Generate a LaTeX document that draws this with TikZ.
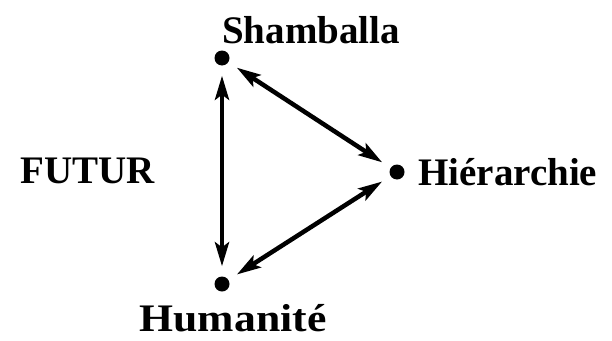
\documentclass[tikz,border=0pt]{standalone}
\usepackage{fontspec}
\setmainfont{Liberation Serif}
\usetikzlibrary{arrows.meta,positioning}

\begin{document}
\begin{tikzpicture}[
    x=1pt, y=-1pt,
    point/.style={circle, fill=black, inner sep=0pt, minimum size=15pt},
    lbl/.style={font=\fontsize{39}{39}\selectfont\bfseries, inner sep=0pt},
    link/.style={{Stealth[length=24pt,width=14pt,inset=5pt]}-{Stealth[length=24pt,width=14pt,inset=5pt]},
                 line width=4.5pt, shorten <=10pt, shorten >=10pt}]
  \useasboundingbox (0,0) rectangle (612,340);

  % the three points
  \node[point] (sham) at (222,58) {};
  \node[point] (hier) at (397,172) {};
  \node[point] (huma) at (222,284) {};

  % labels
  \node[lbl] (shamtext) at (311,30) {Shamballa};
  \node[lbl, anchor=west] (hiertext) at (418,172) {Hiérarchie};
  \node[lbl, xscale=1.12] (humatext) at (233,318) {Humanité};
  \node[lbl, anchor=west] (futur) at (20,171) {FUTUR};

  % arrows
  \draw[link] (sham) -- (hier);
  \draw[link] (hier) -- (huma);
  \draw[link] (huma) -- (sham);
\end{tikzpicture}
\end{document}
